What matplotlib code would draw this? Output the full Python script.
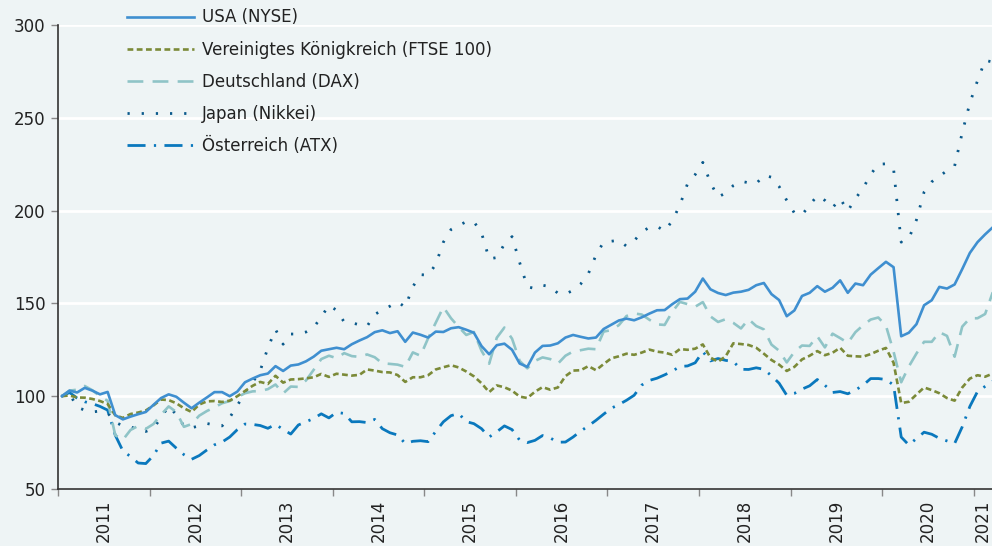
import numpy as np
import matplotlib.pyplot as plt
from matplotlib.ticker import FixedLocator, NullFormatter

# monthly index values, Jan 2011 = 100, Jan 2011 .. Mar 2021
usa = [100, 103, 102, 104.5, 103, 101, 102.3, 89.8, 87.5, 89, 90.3, 91.5,
       95.3, 99, 101, 99.7, 96.5, 93.5, 96.5, 99.3, 102.2, 102.2, 100, 102.5,
       107.5, 109.5, 111.3, 112.2, 116.2, 113.6, 116.5, 117.1, 118.8, 121.3, 124.5, 125.3,
       126.1, 125.3, 128, 130, 131.8, 134.5, 135.5, 134, 135, 129.3, 134.3, 133.1,
       131.6, 134.8, 134.6, 136.6, 137.2, 135.8, 134.2, 127, 122.6, 127.5, 128.3, 125,
       117.6, 115.8, 123.5, 127.1, 127.3, 128.5, 131.6, 133, 132, 131.1, 131.6, 136.2,
       138.5, 140.8, 141.8, 140.9, 142.5, 144.5, 146.3, 146.4, 149.6, 152.3, 152.6, 156.3,
       163.4, 157.6, 155.6, 154.5, 155.8, 156.3, 157.3, 159.8, 161, 155, 151.8, 143.1,
       146.2, 154, 155.7, 159.3, 156.3, 158.4, 162.4, 155.7, 160.7, 159.8, 165.5, 169,
       172.4, 169.5, 132.3, 134.2, 138.8, 149, 151.7, 158.9, 158, 160.2, 168.5, 177.2,
       183, 187.2, 191]
uk = [100, 100.4, 99.3, 99.2, 98.5, 97.4, 95.8, 89.7, 88.3, 90.4, 91.2, 92.3,
      95, 98.2, 97.9, 96.2, 93.5, 91.5, 95.5, 97.2, 97.4, 96.9, 97.6, 100,
      102.8, 105.6, 107.7, 106.6, 111, 107.3, 109, 109.2, 109.6, 110.2, 112, 110.4,
      112.1, 111.6, 111.1, 111.5, 114.4, 113.8, 113, 112.8, 111.4, 107.7, 110.2, 110.2,
      111.3, 114.4, 115.6, 116.7, 115.5, 113.3, 110.7, 107, 102.2, 105.8, 104.8, 103,
      99.8, 99, 102.4, 104.9, 103.5, 104.7, 110.8, 113.8, 114, 116.2, 114, 117.3,
      120.4, 121.5, 122.9, 122.3, 123.5, 125.1, 124, 123.5, 122.3, 125.4, 125, 125.6,
      127.9, 120.8, 118.6, 121.5, 128.5, 128.1, 127.6, 126.1, 122.9, 119.5, 117, 113.6,
      115.8, 119.8, 121.8, 124.3, 122.1, 123.4, 126.1, 121.8, 121.5, 121.3, 122.7, 124.5,
      126, 118, 96.3, 97, 100.9, 104.7, 103.3, 101.6, 99, 97.6, 104.7, 109.5,
      111.3, 110.5, 112.2]
dax = [100, 103, 103.5, 105.5, 103.2, 100, 97.5, 79, 76.5, 81.8, 84, 82.4,
       85, 90, 94.5, 91.5, 83.5, 85, 89.5, 92, 94, 96.2, 97.4, 99.5,
       101.6, 102.6, 102.8, 103.8, 106.3, 101.5, 105.2, 105, 108.5, 114.2, 120, 121.8,
       120.5, 123.2, 121.6, 121.2, 122.5, 121, 117.7, 117.4, 117, 115.8, 123.6, 121.8,
       131.2, 139.6, 148, 142, 137.3, 133, 134.6, 124.5, 117.5, 131.5, 137, 131,
       119, 115, 119, 120.9, 120, 117.5, 121.8, 124.1, 124.8, 125.6, 125.3, 134.8,
       135.6, 138.3, 143.2, 144.6, 144, 141.2, 138.7, 138.4, 145.5, 150.8, 149.6, 148.2,
       150.7, 143, 140, 141.5, 139.5, 136.5, 141.5, 137.8, 136, 127.8, 124.5, 118.2,
       123.9, 127.3, 127.1, 132.3, 126.3, 133.7, 131.3, 128.7, 134.5, 138.2, 141.3, 142.4,
       138, 124, 107.5, 116, 123, 129.3, 129.3, 134.5, 132.5, 121.3, 137.5, 142,
       142, 144.3, 156]
nikkei = [100, 101.5, 94, 92.5, 91.5, 92, 91, 86, 84, 83.5, 82, 81,
          82.6, 88.5, 94.6, 90.1, 84, 83, 84, 85.3, 84.5, 84, 88.5, 95,
          102, 107.4, 113.8, 126, 136, 128, 133.5, 133.5, 134.6, 137, 142.7, 149,
          146.3, 140, 139.5, 138.5, 137.7, 144, 146.5, 148.5, 150.8, 148, 159, 165.5,
          165.2, 171, 183, 189.8, 192, 194, 194, 188, 174, 174.7, 182, 186,
          172, 159, 158, 159.8, 159, 155.5, 155, 157.1, 160.5, 166, 176, 183.1,
          183.5, 184, 180.8, 183.7, 188.5, 191, 191.5, 189, 194.5, 203, 214.5, 219.4,
          226, 215, 207.3, 209.5, 213.5, 215.8, 215, 214.5, 219, 218, 213, 205.5,
          198.7, 197.7, 203, 208, 205.5, 201.5, 206.5, 199.8, 206.5, 212, 219.5, 225,
          225.2, 222.5, 183, 185, 195, 210, 215.5, 218.5, 221.5, 224, 242, 258,
          270, 281, 280]
atx = [100, 102, 99, 97, 96, 94.5, 92.5, 79, 70.5, 67.5, 64, 63.7,
       68, 74.7, 75.8, 72, 68.5, 66, 68, 71, 73.8, 75.3, 78, 82,
       85, 84.8, 84.2, 82.7, 84.8, 82.1, 79.6, 84.5, 86.2, 88, 90.5, 88.3,
       91.3, 90.7, 86.2, 86.3, 85.8, 87.5, 82.5, 80.3, 79.1, 74.5, 75.7, 76,
       75.5, 81, 86.2, 89.5, 90.7, 86.3, 85.2, 82.5, 78, 80.8, 84, 82,
       76.3, 75, 76.2, 78.8, 77.5, 75.2, 75.3, 78, 81.2, 84, 87, 90.3,
       93.5, 95.5, 97.8, 100.5, 106, 108.5, 109.7, 111.5, 113.5, 116, 116.3, 118,
       124, 119, 120.3, 119.3, 118.7, 114.5, 114.4, 115.3, 114.5, 111, 107, 100.5,
       101.5, 103.8, 105.6, 109, 105.9, 102, 102.5, 101.3, 103.3, 105.9, 109.5, 109.5,
       109, 106, 78, 73.7, 77.2, 80.6, 79.5, 77.3, 75.9, 74.5, 83.5, 94.5,
       102.5, 105.3, 108]

labels = ['USA (NYSE)', 'Vereinigtes Königkreich (FTSE 100)', 'Deutschland (DAX)',
          'Japan (Nikkei)', 'Österreich (ATX)']
years = list(range(2011, 2022))

bg = '#eef4f5'
plt.rcParams['font.family'] = ['DejaVu Sans']

fig = plt.figure(figsize=(9.92, 5.46), dpi=100, facecolor=bg)
ax = fig.add_axes([0.0585, 0.1044, 0.9415, 0.8498], facecolor=bg)

x = 2011 + (np.arange(len(usa)) + 0.5) / 12
xmax = 2011 + 122.4 / 12

ax.plot(x, usa, color='#3f8fd0', lw=1.9, label=labels[0], zorder=5)
ax.plot(x, uk, color='#7b8a38', lw=1.9, dashes=(2.2, 1.3), label=labels[1], zorder=4)
ax.plot(x, dax, color='#8fc4c7', lw=1.9, dashes=(6, 3.5), label=labels[2], zorder=3)
ax.plot(x, nikkei, color='#0b5a8c', lw=2.0, dashes=(0.8, 4.3), label=labels[3], zorder=2)
ax.plot(x, atx, color='#0a78bd', lw=2.0, dashes=(6.5, 3, 0.8, 3), label=labels[4], zorder=1)

ax.set_xlim(2011, xmax)
ax.set_ylim(50, 300)
ax.set_yticks(range(50, 301, 50))
ax.yaxis.grid(True, color='white', lw=2)
ax.set_axisbelow(True)

ax.xaxis.set_major_locator(FixedLocator(years))
ax.xaxis.set_major_formatter(NullFormatter())
mids = [y + 0.5 for y in years[:-1]] + [(2021 + xmax) / 2]
ax.xaxis.set_minor_locator(FixedLocator(mids))
ax.set_xticklabels([str(y) for y in years], minor=True, rotation=90)
ax.tick_params(axis='x', which='minor', length=0, pad=8, labelsize=12, labelcolor='#222222')
ax.tick_params(axis='x', which='major', length=5, width=1, color='#888888')
ax.tick_params(axis='y', length=5, width=1, color='#888888', labelsize=12,
               labelcolor='#222222', pad=4)

for s in ['top', 'right']:
    ax.spines[s].set_visible(False)
for s in ['left', 'bottom']:
    ax.spines[s].set_color('#333333')
    ax.spines[s].set_linewidth(1.2)

ax.legend(loc='upper left', bbox_to_anchor=(0.058, 1.068), frameon=False,
          fontsize=12, handlelength=4.0, labelspacing=0.85, handletextpad=0.5,
          labelcolor='#222222')

fig.savefig('out.png', dpi=100, facecolor=bg)
